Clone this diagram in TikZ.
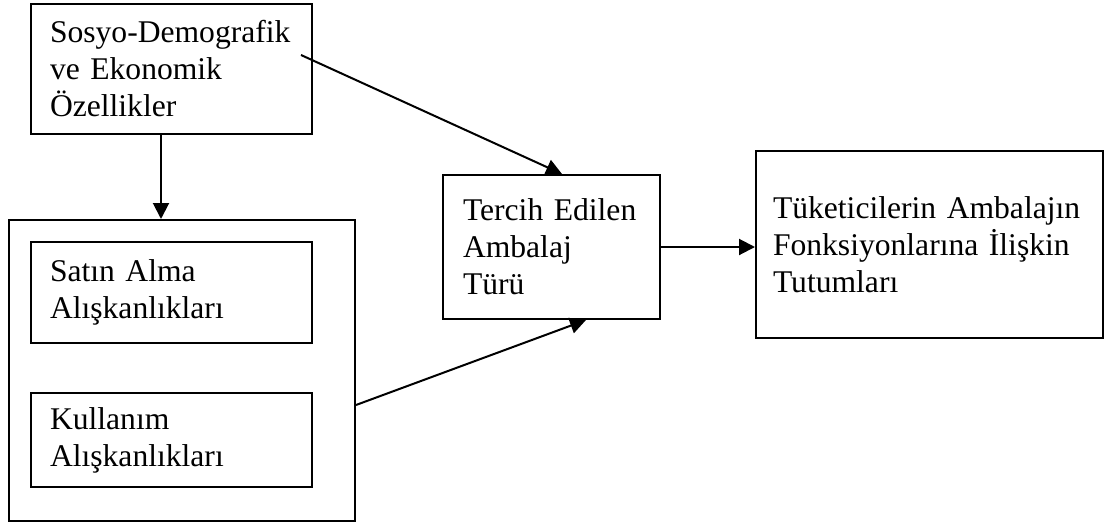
\documentclass[tikz,border=0pt]{standalone}
\usepackage{fontspec}
\setmainfont{Liberation Serif}
\usetikzlibrary{arrows.meta,positioning}

\begin{document}
\begin{tikzpicture}[x=0.5pt,y=-0.5pt,>={Triangle[length=8pt,width=8pt]},
		line width=1pt,
		box/.style={draw,rectangle,align=left,font=\fontsize{15.8}{18.5}\selectfont,inner xsep=9.5pt}]
		
		\useasboundingbox (0,0) rectangle (1111,524);
		
		\node[box,minimum width=140.5pt,minimum height=65pt,text width=121.5pt] (socio) at (171.5,69) {\mbox{Sosyo-Demografik}\\ve Ekonomik\\Özellikler};
		\node[box,minimum width=173pt,minimum height=150.5pt] (habits) at (182,370.5) {};
		\node[box,minimum width=140.5pt,minimum height=50.5pt,text width=121.5pt] (buy) at (171.5,292.5) {Satın Alma\\Alışkanlıkları};
		\node[box,minimum width=140.5pt,minimum height=47pt,text width=121.5pt] (use) at (171.5,440) {Kullanım\\Alışkanlıkları};
		\node[box,minimum width=108.5pt,minimum height=72pt,text width=88.5pt,inner xsep=10pt] (tercih) at (551.5,247) {Tercih Edilen\\Ambalaj\\Türü};
		\node[box,minimum width=173.5pt,minimum height=93.5pt,text width=156.5pt,inner xsep=8.5pt] (result) at (929.5,244.5) {\mbox{Tüketicilerin Ambalajın}\\\mbox{Fonksiyonlarına İlişkin}\\Tutumları};
		
		\draw[->] ([xshift=-5.25pt]socio.south) -- ([xshift=-5.25pt]socio.south |- habits.north);
		\draw[->] ([xshift=-6pt,yshift=7pt]socio.east) -- ([xshift=5.25pt]tercih.north);
		\draw[->] ([yshift=-17.25pt]habits.east) -- ([xshift=17.25pt]tercih.south);
		\draw[->] (tercih.east) -- (tercih.east -| result.west);
	\end{tikzpicture}
\end{document}
